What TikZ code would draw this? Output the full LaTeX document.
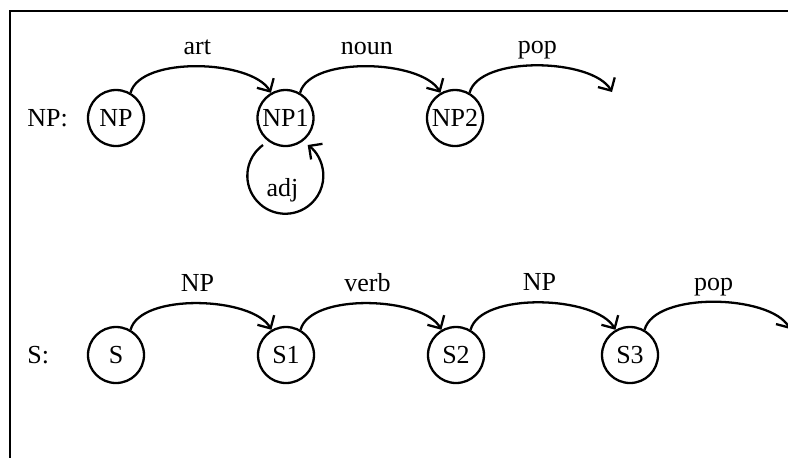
\documentclass[tikz,border=0pt]{standalone}
\usepackage{fontspec}
\setmainfont{Liberation Serif}
\usetikzlibrary{arrows.meta}
\tikzset{
    statenode/.style={
        circle,
        draw,
        line width=1.3pt,
        minimum size=1.12cm,
        inner sep=0pt
    },
    % arcs between the states
    arcarrow/.style={
        line width=1.3pt,
        black,
        -{Straight Barb[length=5.5pt, width=11pt]},
        out=75, in=120, looseness=0.7
    },
    looparrow/.style={
        line width=1.3pt,
        black,
        -{Straight Barb[length=5.5pt, width=11pt]}
    },
    arclabel/.style={midway, anchor=base, yshift=0.24cm}
}
\begin{document}
\begin{tikzpicture}[font=\fontsize{14.8pt}{17pt}\selectfont]
    \clip (0,0) rectangle (15.76,-9.14);
    \draw[line width=1.6pt] (0.2,-9.5) -- (0.2,-0.22) -- (16,-0.22);

    % NP network
    \node[anchor=west,inner sep=0pt] (nplabel) at (0.54,-2.36) {NP:};
    \node[statenode] (np0) at (2.32,-2.36) {NP};
    \node[statenode] (np1) at (5.71,-2.36) {NP1};
    \node[statenode] (np2) at (9.10,-2.36) {NP2};
    \coordinate (npend) at (12.24,-1.84);
    \coordinate (adjstart) at ([shift={(-0.45,-0.54)}]np1.center);

    \draw[arcarrow] (np0.60) to node[arclabel] (art) {art} (np1.120);
    \draw[arcarrow] (np1.60) to node[arclabel] (noun) {noun} (np2.120);
    \draw[arcarrow] (np2.60) to node[arclabel] (nppop) {pop} (npend);
    \draw[looparrow] (adjstart) arc[start angle=126, end angle=414, radius=0.76];
    \node[anchor=base] (adj) at (5.65,-3.92) {adj};

    % S network
    \node[anchor=west,inner sep=0pt] (slabel) at (0.54,-7.10) {S:};
    \node[statenode] (s0) at (2.32,-7.10) {S};
    \node[statenode] (s1) at (5.72,-7.10) {S1};
    \node[statenode] (s2) at (9.12,-7.10) {S2};
    \node[statenode] (s3) at (12.60,-7.10) {S3};
    \coordinate (send) at (15.80,-6.58);

    \draw[arcarrow] (s0.60) to node[arclabel] (snp) {NP} (s1.120);
    \draw[arcarrow] (s1.60) to node[arclabel] (verb) {verb} (s2.120);
    \draw[arcarrow] (s2.60) to node[arclabel] (snp2) {NP} (s3.120);
    \draw[arcarrow] (s3.60) to node[arclabel] (spop) {pop} (send);
\end{tikzpicture}
\end{document}
